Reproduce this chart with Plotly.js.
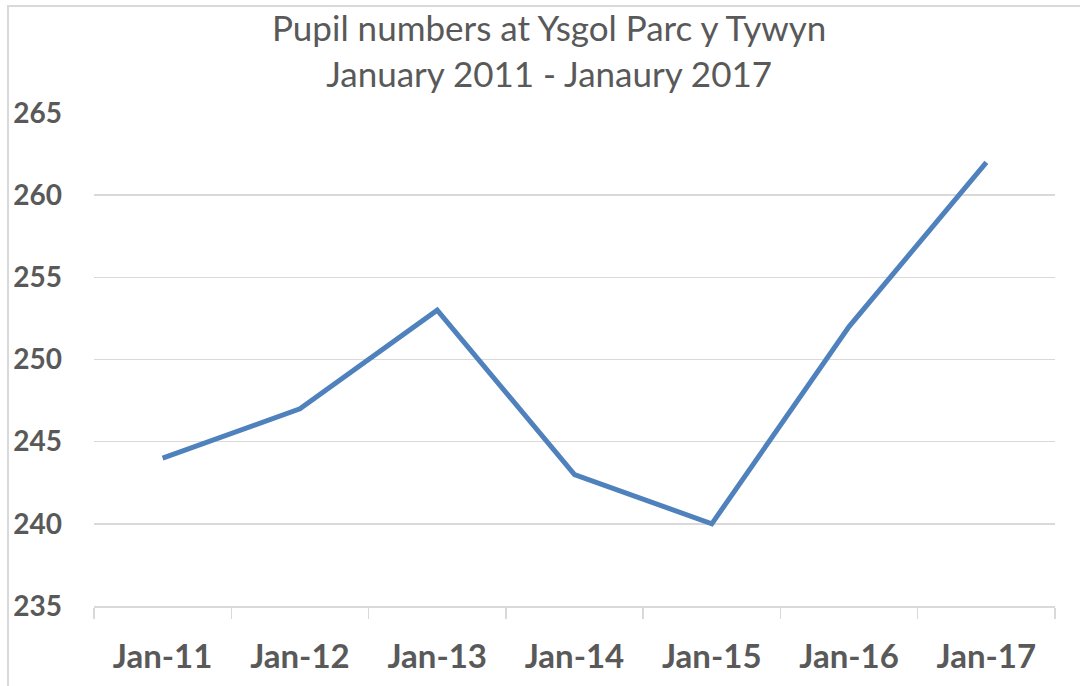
<!DOCTYPE html>
<html>
<head>
<meta charset="utf-8">
<script src="https://cdn.plot.ly/plotly-3.0.1.min.js"></script>
<style>
  html, body { margin: 0; padding: 0; background: #ffffff; }
  #wrap { position: relative; width: 1080px; height: 686px; overflow: hidden; }
  #chart { position: absolute; left: 0; top: 0; width: 1080px; height: 686px; }
  #frame { position: absolute; left: 7px; top: 5px; width: 1100px; height: 700px;
           border-left: 2px solid #d9d9d9; border-top: 2px solid #d9d9d9; pointer-events: none; }
</style>
</head>
<body>
<div id="wrap">
  <div id="chart"></div>
  <div id="frame"></div>
</div>
<script>
const categories = ["Jan-11", "Jan-12", "Jan-13", "Jan-14", "Jan-15", "Jan-16", "Jan-17"];
const pupilNumbers = [244, 247, 253, 243, 240, 252, 262];
const yTickValues = [235, 240, 245, 250, 255, 260, 265];
const chartTitle = "Pupil numbers at Ysgol Parc y Tywyn<br>January 2011 - Janaury 2017";

const trace = {
  type: "scatter",
  mode: "lines",
  x: categories,
  y: pupilNumbers,
  line: { color: "#4f81bd", width: 5 },
  hoverinfo: "x+y"
};

const layout = {
  width: 1080,
  height: 686,
  paper_bgcolor: "#ffffff",
  plot_bgcolor: "#ffffff",
  showlegend: false,
  margin: { l: 94, r: 25, t: 113, b: 80, pad: 0 },
  font: { family: "Lato, 'Open Sans', sans-serif", color: "#595959" },
  annotations: [{
    text: chartTitle,
    xref: "paper", yref: "paper",
    x: 0.473, y: 1.127,
    xanchor: "center", yanchor: "middle",
    showarrow: false,
    align: "center",
    font: { family: "Lato, 'Open Sans', sans-serif", size: 35, color: "#595959" }
  }],
  xaxis: {
    type: "category",
    range: [-0.5, categories.length - 0.5],
    tickson: "boundaries",
    ticks: "outside",
    ticklen: 11,
    tickwidth: 1.5,
    tickcolor: "#d9d9d9",
    showline: true,
    linecolor: "#d9d9d9",
    linewidth: 1.5,
    showgrid: false,
    zeroline: false,
    ticklabelstandoff: 21,
    tickfont: { family: "Lato, 'Open Sans', sans-serif", size: 33, color: "#595959", weight: "bold" },
    fixedrange: true
  },
  yaxis: {
    range: [235, 265],
    tickvals: yTickValues,
    ticktext: yTickValues.map(String),
    ticks: "",
    showline: false,
    showgrid: true,
    gridcolor: "#d9d9d9",
    gridwidth: 1.5,
    zeroline: false,
    ticklabelstandoff: 31,
    tickfont: { family: "Lato, 'Open Sans', sans-serif", size: 28, color: "#595959", weight: "bold" },
    fixedrange: true
  }
};

Plotly.newPlot("chart", [trace], layout, { displayModeBar: false, staticPlot: true });
</script>
</body>
</html>
